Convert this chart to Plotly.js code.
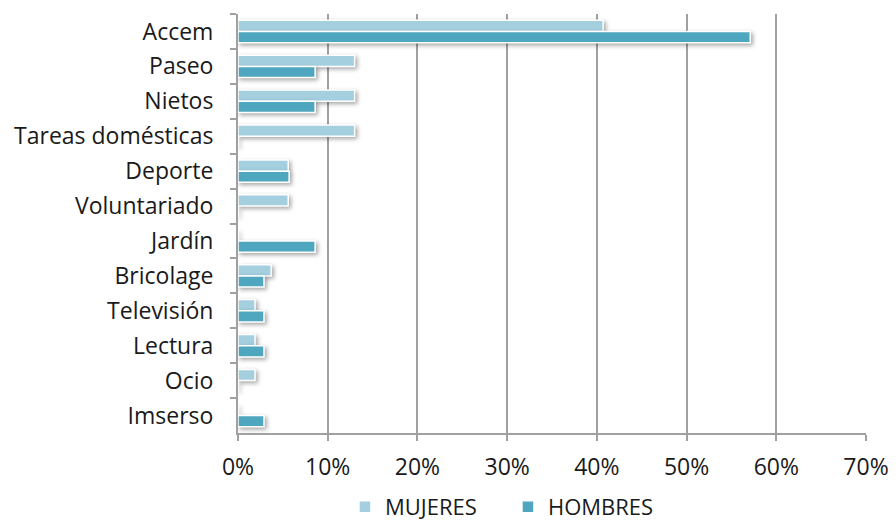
<!DOCTYPE html>
<html>
<head>
<meta charset="utf-8">
<script src="https://cdn.plot.ly/plotly-3.0.1.min.js"></script>
<style>
html,body{margin:0;padding:0;background:#fff;}
#chart{width:896px;height:522px;}
.barlayer .point path{filter:drop-shadow(2px 2px 2px rgba(0,0,0,0.35));}
.legend{translate:0px 6px;}
</style>
</head>
<body>
<div id="chart"></div>
<script>
const categories = ["Accem","Paseo","Nietos","Tareas domésticas","Deporte","Voluntariado","Jardín","Bricolage","Televisión","Lectura","Ocio","Imserso"];
const mujeres = [40.7, 13.0, 13.0, 13.0, 5.6, 5.6, 0, 3.7, 1.9, 1.9, 1.9, 0];
const hombres = [57.1, 8.6, 8.6, 0, 5.7, 0, 8.6, 2.9, 2.9, 2.9, 0, 2.9];
const tickVals = [0, 10, 20, 30, 40, 50, 60, 70];
const tickText = ["0%","10%","20%","30%","40%","50%","60%","70%"];

const font = {family: "Open Sans, Noto Sans, sans-serif", size: 23, color: "#1a1a1a"};

const traces = [
  {type: "bar", orientation: "h", name: "MUJERES", y: categories, x: mujeres,
   marker: {color: "#a3cfdf", line: {color: "#ffffff", width: 1.5}}, hoverinfo: "skip"},
  {type: "bar", orientation: "h", name: "HOMBRES", y: categories, x: hombres,
   marker: {color: "#4ea7bf", line: {color: "#ffffff", width: 1.5}}, hoverinfo: "skip"}
];

const layout = {
  width: 896, height: 522,
  margin: {l: 238, r: 30, t: 14, b: 89},
  paper_bgcolor: "#ffffff", plot_bgcolor: "#ffffff",
  font: font,
  barmode: "group",
  bargap: 0.36, bargroupgap: 0,
  showlegend: true,
  legend: {orientation: "h", xref: "container", yref: "container", x: 0.385, xanchor: "left", y: 0, yanchor: "bottom",
           font: {family: font.family, size: 22, color: "#1a1a1a"}, itemwidth: 30, entrywidth: 118, traceorder: "normal"},
  xaxis: {range: [0, 70], tickvals: tickVals, ticktext: tickText,
          showgrid: true, gridcolor: "#a0a0a0", gridwidth: 2,
          zeroline: false, showline: true, linecolor: "#a0a0a0", linewidth: 2,
          ticks: "outside", ticklen: 6, tickcolor: "#a0a0a0", tickwidth: 2,
          ticklabelstandoff: 6, fixedrange: true},
  yaxis: {type: "category", autorange: "reversed", tickson: "boundaries",
          showgrid: false, zeroline: false, showline: true, linecolor: "#a0a0a0", linewidth: 2,
          ticks: "outside", ticklen: 6, tickcolor: "#a0a0a0", tickwidth: 2,
          ticklabelstandoff: 18, fixedrange: true}
};

Plotly.newPlot("chart", traces, layout, {displayModeBar: false, staticPlot: true});
</script>
</body>
</html>
